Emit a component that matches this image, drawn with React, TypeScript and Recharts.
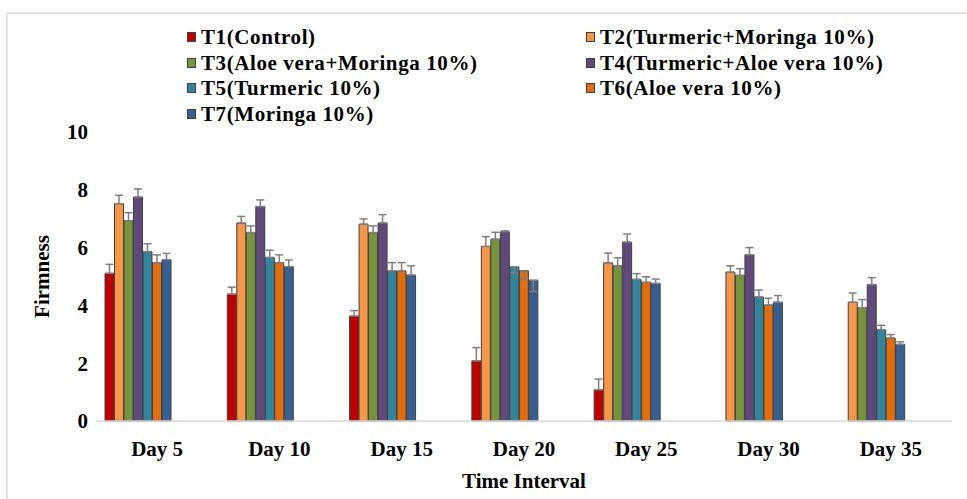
import React from 'react';
import { BarChart, Bar, XAxis, YAxis, ErrorBar, Label } from 'recharts';

const days = ['Day 5', 'Day 10', 'Day 15', 'Day 20', 'Day 25', 'Day 30', 'Day 35'];

const names = [
  'T1(Control)',
  'T2(Turmeric+Moringa 10%)',
  'T3(Aloe vera+Moringa 10%)',
  'T4(Turmeric+Aloe vera 10%)',
  'T5(Turmeric 10%)',
  'T6(Aloe vera 10%)',
  'T7(Moringa 10%)',
];

// mean firmness per day
const t1 = [5.11, 4.39, 3.63, 2.08, 1.08, null, null];
const t2 = [7.52, 6.85, 6.81, 6.04, 5.47, 5.15, 4.11];
const t3 = [6.93, 6.52, 6.52, 6.29, 5.37, 5.04, 3.92];
const t4 = [7.75, 7.42, 6.85, 6.55, 6.19, 5.75, 4.72];
const t5 = [5.86, 5.66, 5.19, 5.33, 4.9, 4.29, 3.16];
const t6 = [5.48, 5.48, 5.19, 5.2, 4.8, 4.01, 2.87];
const t7 = [5.58, 5.34, 5.05, 4.87, 4.76, 4.11, 2.65];

// error bars (negative = drawn downward)
const e1 = [0.31, 0.24, 0.19, 0.46, 0.37, null, null];
const e2 = [0.29, 0.23, 0.18, 0.34, 0.34, 0.22, 0.32];
const e3 = [0.28, 0.23, 0.23, 0.24, 0.28, 0.23, 0.28];
const e4 = [0.28, 0.23, 0.29, 0.03, 0.28, 0.25, 0.24];
const e5 = [0.27, 0.25, 0.29, -0.2, 0.2, 0.24, 0.15];
const e6 = [0.27, 0.27, 0.29, -0.3, 0.19, 0.24, 0.12];
const e7 = [0.22, 0.23, 0.32, -0.39, 0.15, 0.23, 0.09];

const yTicks = [0, 2, 4, 6, 8, 10];

const COLORS = ['#C00000', '#F79646', '#77933C', '#604A7B', '#31859C', '#E46C0A', '#376092'];

const series = [t1, t2, t3, t4, t5, t6, t7];
const errors = [e1, e2, e3, e4, e5, e6, e7];
const keys = ['T1', 'T2', 'T3', 'T4', 'T5', 'T6', 'T7'];

const data = days.map((day, i) => {
  const row: any = { day };
  keys.forEach((k, j) => {
    row[k] = series[j][i];
    row[k + 'e'] = errors[j][i];
  });
  return row;
});

const FONT = '"Liberation Serif", "Times New Roman", serif';
const tickStyle = { fontFamily: FONT, fontWeight: 700, fontSize: 21, fill: '#000' };

const errorOf = (key: string) => (row: any) => {
  const e = row[key + 'e'];
  if (e == null || e === 0) return null;
  return e > 0 ? [0, e] : [-e, 0];
};

const LegendBox = () => {
  const left = [0, 2, 4, 6];
  const right = [1, 3, 5];
  const item = (i: number, x: number, y: number) => (
    <div
      key={i}
      style={{
        position: 'absolute',
        left: x,
        top: y,
        display: 'flex',
        alignItems: 'center',
        fontFamily: FONT,
        fontWeight: 700,
        fontSize: 21,
        letterSpacing: 0.6,
        whiteSpace: 'nowrap',
        lineHeight: '24px',
        color: '#000',
      }}
    >
      <span
        style={{
          display: 'inline-block',
          width: 7,
          height: 8,
          background: COLORS[i],
          border: '1px solid #404040',
          marginRight: 5,
        }}
      />
      {names[i]}
    </div>
  );
  return (
    <>
      {left.map((i, r) => item(i, 187, 25 + r * 25.7))}
      {right.map((i, r) => item(i, 586, 25 + r * 25.7))}
    </>
  );
};

export default function App() {
  return (
    <div style={{ position: 'absolute', left: 0, top: 0, width: 967, height: 499, background: '#fff' }}>
      <div
        style={{
          position: 'absolute',
          left: 6,
          top: 12,
          width: 970,
          height: 490,
          border: '2px solid #e3e3e3',
          boxSizing: 'border-box',
        }}
      />
      <BarChart
        width={967}
        height={499}
        data={data}
        margin={{ top: 132, right: 15, bottom: 10, left: 36 }}
        barSize={9}
        barGap={0.5}
      >
        {/* baseline with tick marks on the day boundaries */}
        <XAxis
          xAxisId="a"
          type="number"
          domain={[0, 7]}
          ticks={[0, 1, 2, 3, 4, 5, 6, 7]}
          allowDataOverflow
          tick={false}
          tickSize={7}
          height={8}
          axisLine={{ stroke: '#d9d9d9', strokeWidth: 1.5 }}
          tickLine={{ stroke: '#d9d9d9', strokeWidth: 1.5 }}
        />
        <XAxis
          xAxisId="b"
          dataKey="day"
          axisLine={false}
          tickLine={false}
          tick={tickStyle}
          tickMargin={6}
          height={60}
        >
          <Label
            value="Time Interval"
            position="insideBottom"
            offset={1}
            style={{ fontFamily: FONT, fontWeight: 700, fontSize: 21, fill: '#000' }}
          />
        </XAxis>
        <YAxis
          domain={[0, 10]}
          ticks={yTicks}
          axisLine={false}
          tickLine={false}
          tick={tickStyle}
          width={60}
        >
          <Label
            value="Firmness"
            angle={-90}
            position="insideLeft"
            offset={6}
            style={{ fontFamily: FONT, fontWeight: 700, fontSize: 21, fill: '#000', textAnchor: 'middle' }}
          />
        </YAxis>
        {keys.map((k, j) => (
          <Bar key={k} xAxisId="b" dataKey={k} name={names[j]} fill={COLORS[j]} stroke="#404040" strokeWidth={1} isAnimationActive={false}>
            <ErrorBar dataKey={errorOf(k)} width={4} stroke="#7f7f7f" strokeWidth={1.5} direction="y" />
          </Bar>
        ))}
        {/* empty slots so the groups sit left inside each day, like the original */}
        {['s1', 's2', 's3', 's4'].map((k) => (
          <Bar key={k} xAxisId="b" dataKey={k} fill="none" isAnimationActive={false} />
        ))}
      </BarChart>
      <LegendBox />
    </div>
  );
}
